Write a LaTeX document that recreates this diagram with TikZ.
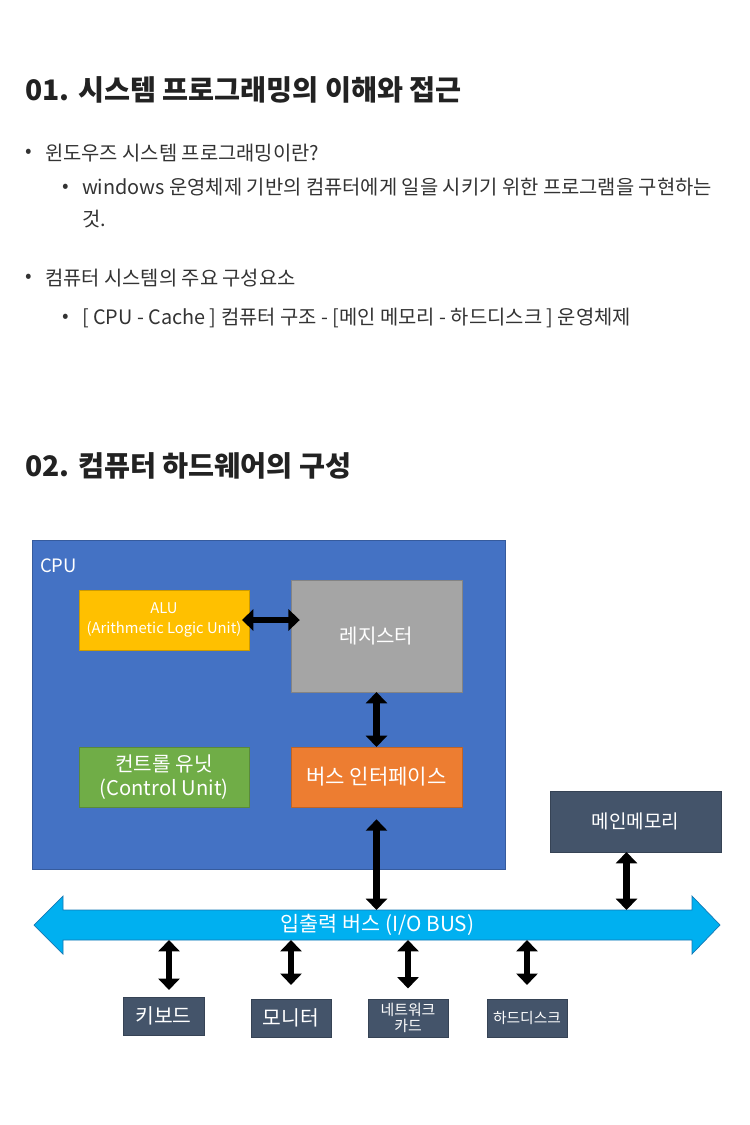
\documentclass[tikz,border=0pt]{standalone}
\usepackage{fontspec}
\setmainfont{Noto Sans CJK KR}
\usetikzlibrary{arrows.meta}
\definecolor{cpublue}{RGB}{68,114,196}
\definecolor{aluyellow}{RGB}{255,192,0}
\definecolor{reggray}{RGB}{165,165,165}
\definecolor{cugreen}{RGB}{112,173,71}
\definecolor{biforange}{RGB}{237,125,49}
\definecolor{devslate}{RGB}{68,84,106}
\definecolor{busblue}{RGB}{0,176,240}
\definecolor{busedge}{RGB}{20,120,180}
\definecolor{bodytext}{RGB}{51,51,51}
\definecolor{headtext}{RGB}{34,34,34}

\begin{document}
\begin{tikzpicture}[x=0.02cm,y=-0.02cm,
  every node/.style={inner sep=0pt,outer sep=0pt},
  title/.style={anchor=west,text=headtext,font=\fontsize{16.1}{19}\selectfont\bfseries},
  body/.style={anchor=west,text=bodytext,font=\fontsize{11.3}{18}\selectfont},
  dot/.style={anchor=center,text=bodytext,font=\fontsize{11}{12}\selectfont},
  unit/.style={text=white,align=center,draw=#1!80!black,fill=#1},
  link/.style={line width=3.6pt,{Triangle[width=12pt,length=6.5pt]}-{Triangle[width=12pt,length=6.5pt]}}]
  \useasboundingbox[fill=white] (0,0) rectangle (750,1125);

  \node[title] (t1) at (25,90) {01. 시스템 프로그래밍의 이해와 접근};
  \node[dot] (b1) at (29,153) {•};
  \node[body] (l1) at (45,153) {윈도우즈 시스템 프로그래밍이란?};
  \node[dot] (b2) at (66,188) {•};
  \node[body,anchor=north west,align=left] (l2) at (82,178) {windows 운영체제 기반의 컴퓨터에게 일을 시키기 위한 프로그램을 구현하는\\것.};
  \node[dot] (b3) at (29,278) {•};
  \node[body] (l3) at (45,278) {컴퓨터 시스템의 주요 구성요소};
  \node[dot] (b4) at (66,318) {•};
  \node[body] (l4) at (82,318) {[ CPU - Cache ] 컴퓨터 구조 - [메인 메모리 - 하드디스크 ] 운영체제};
  \node[title] (t2) at (25,466) {02. 컴퓨터 하드웨어의 구성};

  \node[unit=cpublue,minimum width=9.46cm,minimum height=6.58cm] (cpu) at (268.5,704.5) {};
  \node[anchor=west,text=white,font=\fontsize{10.5}{12}\selectfont] (cpulbl) at (40,566) {CPU};
  \node[unit=aluyellow,minimum width=3.4cm,minimum height=1.2cm,font=\fontsize{8.4}{11}\selectfont] (alu) at (164,620) {ALU\\(Arithmetic Logic Unit)};
  \node[unit=reggray,minimum width=3.42cm,minimum height=2.24cm,font=\fontsize{11.4}{13}\selectfont] (reg) at (376.5,636) {레지스터};
  \node[unit=cugreen,minimum width=3.4cm,minimum height=1.2cm,font=\fontsize{11.5}{13.5}\selectfont] (ctrl) at (164,777) {컨트롤 유닛\\(Control Unit)};
  \node[unit=biforange,minimum width=3.42cm,minimum height=1.2cm,font=\fontsize{12}{14}\selectfont] (busif) at (376.5,777) {버스 인터페이스};
  \node[unit=devslate,minimum width=3.42cm,minimum height=1.22cm,font=\fontsize{10.8}{12}\selectfont] (mem) at (635.5,821.5) {메인메모리};

  \filldraw[fill=busblue,draw=busedge,line width=0.4pt] (34,925) -- (63,896) -- (63,910) -- (692,910) -- (692,896)
    -- (720,925) -- (692,954) -- (692,940) -- (63,940) -- (63,954) -- cycle;
  \node[text=white,minimum width=12.58cm,minimum height=0.6cm,font=\fontsize{11.8}{13}\selectfont] (bus) at (377.5,925) {입출력 버스 (I/O BUS)};

  \node[unit=devslate,minimum width=1.62cm,minimum height=0.76cm,font=\fontsize{11.6}{13}\selectfont] (kbd) at (163.5,1016) {키보드};
  \node[unit=devslate,minimum width=1.6cm,minimum height=0.76cm,font=\fontsize{11.6}{13}\selectfont] (mon) at (291,1018) {모니터};
  \node[unit=devslate,minimum width=1.6cm,minimum height=0.76cm,font=\fontsize{8.5}{9.5}\selectfont] (nic) at (408,1018) {네트워크\\카드};
  \node[unit=devslate,minimum width=1.6cm,minimum height=0.76cm,font=\fontsize{8.4}{9.5}\selectfont] (hdd) at (527,1018) {하드디스크};

  \draw[link,shorten <=-4,shorten >=-5] (alu.east) -- (alu.east -| reg.west);
  \draw[link] (reg.south) -- (busif.north);
  \draw[link,shorten <=7] (busif.south) -- (busif.south |- bus.north);
  \draw[link] ([xshift=-0.18cm]mem.south) -- ([xshift=-0.18cm]mem.south |- bus.north);
  \draw[link,shorten >=4] ([xshift=0.11cm]kbd.north |- bus.south) -- ([xshift=0.11cm]kbd.north);
  \draw[link,shorten >=8] (mon.north |- bus.south) -- (mon.north);
  \draw[link,shorten >=6] (nic.north |- bus.south) -- (nic.north);
  \draw[link,shorten >=8] (hdd.north |- bus.south) -- (hdd.north);
\end{tikzpicture}
\end{document}
